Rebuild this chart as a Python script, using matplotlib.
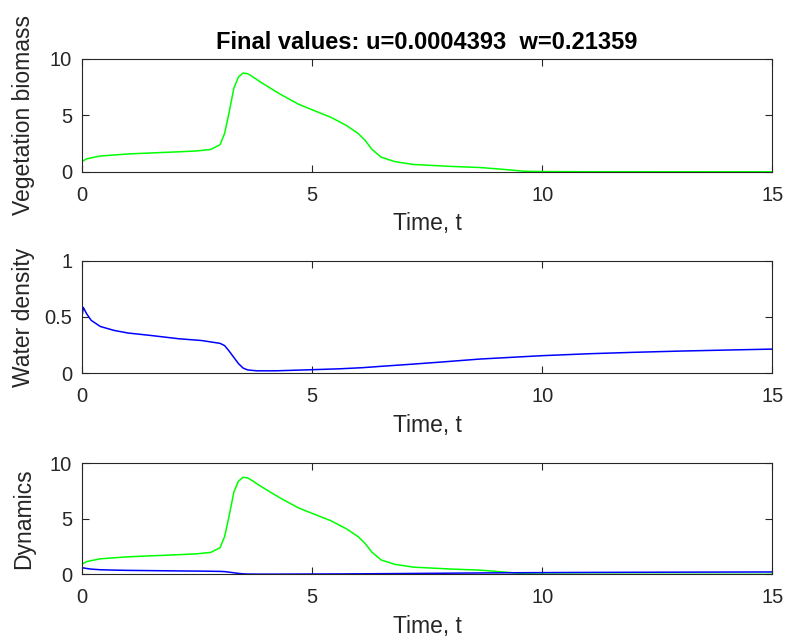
"""Vegetation / water dynamics: three stacked panels in MATLAB style."""

import matplotlib
matplotlib.use("Agg")
import matplotlib.pyplot as plt

plt.rcParams["font.family"] = ["Liberation Sans", "DejaVu Sans"]

# vegetation biomass u(t)
t_veg = [0.0, 0.1, 0.4, 1.0, 1.5, 2.1, 2.5, 2.8, 3.0, 3.1, 3.2, 3.3, 3.4,
         3.5, 3.6, 3.7, 3.9, 4.3, 4.7, 5.0, 5.4, 5.75, 6.0, 6.15, 6.3, 6.5,
         6.8, 7.2, 8.0, 8.65, 9.2, 9.6, 10.0, 11.0, 12.5, 15.0]
u_veg = [0.9, 1.15, 1.4, 1.58, 1.67, 1.77, 1.85, 1.98, 2.4, 3.4, 5.3, 7.4,
         8.4, 8.75, 8.7, 8.45, 7.9, 6.9, 6.0, 5.5, 4.85, 4.1, 3.4, 2.8, 2.0,
         1.3, 0.9, 0.65, 0.48, 0.38, 0.2, 0.05, 0.02, 0.006, 0.002, 0.0004393]

# water density w(t)
t_wat = [0.0, 0.03, 0.1, 0.2, 0.4, 0.7, 1.0, 1.5, 2.1, 2.6, 3.0, 3.1, 3.2,
         3.3, 3.4, 3.5, 3.6, 3.8, 4.2, 5.0, 5.6, 6.1, 6.5, 7.2, 7.8, 8.65,
         10.0, 11.0, 12.0, 13.0, 14.0, 15.0]
w_wat = [0.5, 0.585, 0.53, 0.47, 0.415, 0.38, 0.357, 0.335, 0.306, 0.29,
         0.265, 0.245, 0.195, 0.14, 0.085, 0.045, 0.028, 0.02, 0.02, 0.03,
         0.038, 0.048, 0.06, 0.08, 0.098, 0.125, 0.155, 0.172, 0.185, 0.196,
         0.205, 0.21359]

x_ticks = [0, 5, 10, 15]
title = "Final values: u=0.0004393  w=0.21359"


def style_axes(ax, yticks):
    ax.set_xlim(0, 15)
    ax.set_xticks(x_ticks)
    ax.set_yticks(yticks)
    ax.tick_params(direction="in", top=True, right=True, length=5,
                   width=0.8, labelsize=14.5, colors="#262626", pad=7)
    ax.tick_params(axis="x", pad=10)
    for spine in ax.spines.values():
        spine.set_color("#262626")
        spine.set_linewidth(0.8)
    ax.set_xlabel("Time, t", fontsize=16.5, color="#262626", labelpad=5.5)


def main() -> None:
    fig = plt.figure(figsize=(7.88, 6.41), dpi=100)
    ax1 = fig.add_axes([0.104, 0.732, 0.876, 0.176])
    ax2 = fig.add_axes([0.104, 0.418, 0.876, 0.175])
    ax3 = fig.add_axes([0.104, 0.104, 0.876, 0.173])

    ax1.plot(t_veg, u_veg, color=(0, 1, 0), lw=1.1)
    ax1.set_ylim(0, 10)
    style_axes(ax1, [0, 5, 10])
    ax1.set_ylabel("Vegetation biomass", fontsize=16.5, color="#262626")
    ax1.set_title(title, fontsize=17, fontweight="bold", pad=7)

    ax2.plot(t_wat, w_wat, color=(0, 0, 1), lw=1.1)
    ax2.set_ylim(0, 1)
    style_axes(ax2, [0, 0.5, 1])
    ax2.set_yticklabels(["0", "0.5", "1"])
    ax2.set_ylabel("Water density", fontsize=16.5, color="#262626")

    ax3.plot(t_veg, u_veg, color=(0, 1, 0), lw=1.1)
    ax3.plot(t_wat, w_wat, color=(0, 0, 1), lw=1.1)
    ax3.set_ylim(0, 10)
    style_axes(ax3, [0, 5, 10])
    ax3.set_ylabel("Dynamics", fontsize=16.5, color="#262626")

    for ax in (ax1, ax2, ax3):
        ax.yaxis.set_label_coords(-0.068, 0.5)

    fig.savefig("out.png", dpi=100)
    plt.close(fig)


if __name__ == "__main__":
    main()
